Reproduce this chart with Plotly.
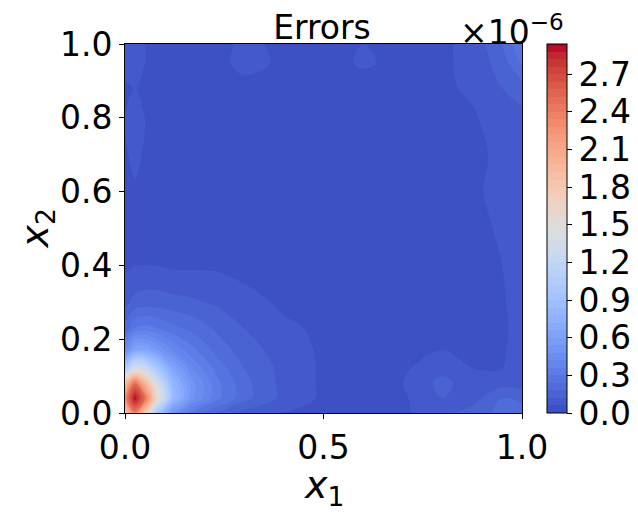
import plotly.graph_objects as go

# grid positions (nonuniform, denser near the hot spot)
x1 = [0.0, 0.025, 0.05, 0.08, 0.12, 0.17, 0.23, 0.3, 0.4, 0.5, 0.6, 0.7, 0.8, 0.88, 0.95, 1.0]
x2 = [0.0, 0.04, 0.08, 0.12, 0.17, 0.23, 0.3, 0.4, 0.5, 0.6, 0.7, 0.8, 0.88, 0.95, 1.0]

# errors in units of 1e-6, rows = x2, cols = x1
err = [
    [1.8, 2.4, 1.8, 1.0, 0.5, 0.28, 0.18, 0.10, 0.06, 0.05, 0.05, 0.05, 0.10, 0.15, 0.20, 0.25],
    [2.3, 2.94, 2.5, 1.6, 0.85, 0.5, 0.32, 0.20, 0.10, 0.05, 0.04, 0.05, 0.12, 0.10, 0.18, 0.15],
    [1.9, 2.5, 2.0, 1.4, 0.8, 0.5, 0.32, 0.20, 0.10, 0.05, 0.04, 0.06, 0.14, 0.08, 0.10, 0.10],
    [1.0, 1.4, 1.3, 1.0, 0.65, 0.42, 0.28, 0.18, 0.10, 0.05, 0.04, 0.05, 0.10, 0.06, 0.06, 0.12],
    [0.45, 0.65, 0.65, 0.55, 0.42, 0.32, 0.22, 0.15, 0.09, 0.05, 0.04, 0.04, 0.06, 0.05, 0.05, 0.10],
    [0.2, 0.3, 0.32, 0.3, 0.26, 0.22, 0.17, 0.12, 0.07, 0.05, 0.04, 0.04, 0.04, 0.04, 0.05, 0.08],
    [0.1, 0.14, 0.15, 0.15, 0.14, 0.13, 0.11, 0.08, 0.05, 0.04, 0.04, 0.03, 0.04, 0.04, 0.05, 0.10],
    [0.05, 0.06, 0.06, 0.06, 0.05, 0.05, 0.05, 0.04, 0.04, 0.03, 0.03, 0.03, 0.03, 0.04, 0.06, 0.08],
    [0.04, 0.04, 0.04, 0.04, 0.04, 0.03, 0.03, 0.03, 0.03, 0.03, 0.03, 0.03, 0.03, 0.04, 0.07, 0.08],
    [0.04, 0.05, 0.04, 0.04, 0.03, 0.03, 0.03, 0.03, 0.03, 0.03, 0.03, 0.03, 0.03, 0.04, 0.10, 0.08],
    [0.05, 0.08, 0.05, 0.04, 0.03, 0.03, 0.03, 0.03, 0.03, 0.03, 0.03, 0.03, 0.03, 0.04, 0.08, 0.06],
    [0.06, 0.10, 0.06, 0.04, 0.03, 0.03, 0.03, 0.03, 0.03, 0.03, 0.03, 0.03, 0.03, 0.05, 0.12, 0.10],
    [0.05, 0.06, 0.05, 0.04, 0.03, 0.03, 0.03, 0.04, 0.03, 0.03, 0.03, 0.03, 0.04, 0.08, 0.12, 0.15],
    [0.08, 0.12, 0.06, 0.04, 0.03, 0.03, 0.04, 0.08, 0.05, 0.03, 0.07, 0.04, 0.05, 0.08, 0.15, 0.25],
    [0.08, 0.10, 0.06, 0.04, 0.03, 0.03, 0.04, 0.07, 0.05, 0.03, 0.06, 0.04, 0.05, 0.08, 0.18, 0.30],
]

cbar_ticks = [0.0, 0.3, 0.6, 0.9, 1.2, 1.5, 1.8, 2.1, 2.4, 2.7]

# matplotlib coolwarm
coolwarm = [
    (59, 76, 192), (68, 90, 204), (77, 104, 215), (87, 117, 225), (98, 130, 234),
    (108, 142, 241), (119, 154, 247), (130, 165, 251), (141, 176, 254), (152, 185, 255),
    (163, 194, 255), (174, 201, 253), (184, 208, 249), (194, 213, 244), (204, 217, 238),
    (213, 219, 230), (221, 221, 221), (229, 216, 209), (236, 211, 197), (241, 204, 185),
    (245, 196, 173), (247, 187, 160), (247, 177, 148), (247, 166, 135), (244, 154, 123),
    (241, 141, 111), (236, 127, 99), (229, 112, 88), (222, 96, 77), (213, 80, 66),
    (203, 62, 56), (192, 40, 47), (180, 4, 38),
]
cscale = [[i / (len(coolwarm) - 1), 'rgb(%d,%d,%d)' % c] for i, c in enumerate(coolwarm)]

# page has an 8px body margin, so work in shifted coordinates
off = 8
W, H = 638 - off, 518 - off
L, T = 125 - off, 44 - off
R = W - (522 - off)
B = H - (413 - off)
ph = H - T - B
pw = W - L - R

font = dict(family='DejaVu Sans', size=33, color='black')

fig = go.Figure(go.Contour(
    x=x1, y=x2, z=err,
    colorscale=cscale, zmin=0, zmax=2.94,
    contours=dict(start=0, end=2.94, size=0.06, coloring='fill', showlines=False),
    line=dict(width=0),
    colorbar=dict(
        x=(547 - off - L) / pw, xanchor='left', xref='paper', xpad=0, ypad=0,
        y=0, yanchor='bottom', len=1, lenmode='fraction',
        thickness=20, outlinecolor='black', outlinewidth=1,
        tickvals=cbar_ticks, ticktext=['%.1f' % t for t in cbar_ticks],
        ticks='outside', ticklen=5, tickcolor='black',
        tickfont=font,
    ),
))

fig.update_xaxes(range=[0, 1], tickvals=[0, 0.5, 1.0], ticktext=['0.0', '0.5', '1.0'],
                 ticks='outside', ticklen=5, tickcolor='black', tickfont=font,
                 showline=True, linecolor='black', linewidth=1, mirror=True,
                 showgrid=False, zeroline=False)
fig.update_yaxes(range=[0, 1], tickvals=[0, 0.2, 0.4, 0.6, 0.8, 1.0],
                 ticktext=['0.0', '0.2', '0.4', '0.6', '0.8', '1.0'],
                 ticks='outside', ticklen=5, tickcolor='black', tickfont=font,
                 showline=True, linecolor='black', linewidth=1, mirror=True,
                 showgrid=False, zeroline=False)

fig.add_annotation(text='×10<sup>−6</sup>', x=(566 - 125) / pw, y=1 + (44 - 30) / ph,
                   xref='paper', yref='paper', xanchor='right', yanchor='middle',
                   showarrow=False, font=dict(family='DejaVu Sans', size=33, color='black'))
fig.add_annotation(text='<i>x</i><sub>1</sub>', x=0.5, y=-(488 - 413) / ph,
                   xref='paper', yref='paper', showarrow=False, yanchor='middle',
                   font=dict(family='DejaVu Sans', size=38, color='black'))
fig.add_annotation(text='<i>x</i><sub>2</sub>', x=-(125 - 37) / pw, y=0.5,
                   xref='paper', yref='paper', showarrow=False, textangle=-90,
                   xanchor='center', font=dict(family='DejaVu Sans', size=38, color='black'))

fig.update_layout(width=W, height=H,
                  title=dict(text='Errors', x=(322 - off) / W, xanchor='center',
                             y=1 - (27 - off) / H, yanchor='middle', xref='container',
                             yref='container',
                             font=dict(family='DejaVu Sans', size=33, color='black')),
                  margin=dict(l=L, r=R, t=T, b=B, autoexpand=False),
                  paper_bgcolor='white', plot_bgcolor='white', showlegend=False)

fig.write_html("out.html")
